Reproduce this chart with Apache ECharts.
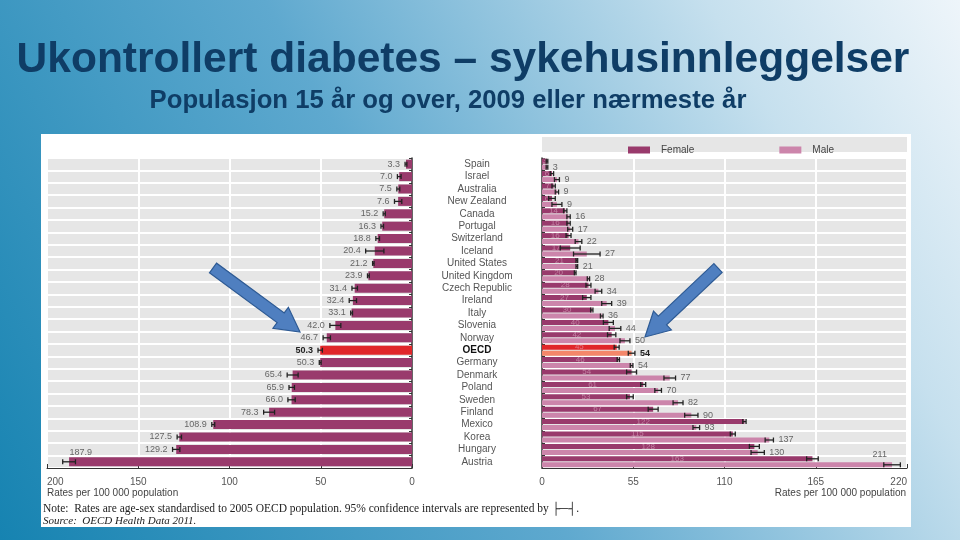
<!DOCTYPE html>
<html><head><meta charset="utf-8">
<script src="https://cdn.jsdelivr.net/npm/echarts@6/dist/echarts.min.js"></script>
<style>html,body{margin:0;padding:0;overflow:hidden}#c{width:960px;height:540px}</style>
</head><body><div id="c"></div>
<script>
const countries = ['Spain','Israel','Australia','New Zealand','Canada','Portugal','Switzerland','Iceland','United States','United Kingdom','Czech Republic','Ireland','Italy','Slovenia','Norway','OECD','Germany','Denmark','Poland','Sweden','Finland','Mexico','Korea','Hungary','Austria'];
const total    = [3.3,7.0,7.5,7.6,15.2,16.3,18.8,20.4,21.2,23.9,31.4,32.4,33.1,42.0,46.7,50.3,50.3,65.4,65.9,66.0,78.3,108.9,127.5,129.2,187.9];
const totalErr = [0.5,1.0,0.8,2.0,0.6,0.7,1.0,5.0,0.4,0.5,1.5,2.0,0.5,3.0,2.0,1.2,0.5,3.0,1.5,2.0,3.0,0.8,1.2,2.0,3.5];
const female    = [3,6,7,6,14,16,16,17,21,20,28,27,30,40,42,45,46,54,61,53,67,122,115,128,163];
const femaleErr = [0.5,1,1,2,1,1,1.5,6,0.5,0.5,1.5,2.5,0.7,3,2.5,1.5,0.7,3,1.5,2,3,1,1.5,3,3.5];
const male    = [3,9,9,9,16,17,22,27,21,28,34,39,36,44,50,54,54,77,70,82,90,93,137,130,211];
const maleErr = [0.5,1.5,1,3,1,1.5,2,8,0.5,0.7,2,3,0.8,3.5,3,2,0.8,3.5,2,3,4,2,2.5,4,5];
const leftTicks = [0,50,100,150,200];
const rightTicks = [0,55,110,165,220];

const OECD = countries.indexOf('OECD');
const C_F = '#993a6c', C_M = '#cc85ab', C_RED = '#e0262a', C_ORG = '#f4876a';
const LEFT_EDGE = 47, RIGHT_EDGE = 907;

const chart = echarts.init(document.getElementById('c'));

function errSeries(name, xi, yi, vals, errs, off, labelSide, showLabel) {
  return {
    type: 'custom', name: name, xAxisIndex: xi, yAxisIndex: yi, z: 5, silent: true,
    data: vals.map((v, i) => [v, i, errs[i]]),
    encode: { x: 0, y: 1 },
    renderItem: function (params, api) {
      const v = api.value(0), c = api.value(1), e = api.value(2);
      const a = api.coord([v - e, c]), b = api.coord([v + e, c]);
      const y = a[1] + off;
      const h = 2.5;
      const kids = [
        { type: 'line', shape: { x1: a[0], y1: y, x2: b[0], y2: y }, style: { stroke: '#222', lineWidth: 1.3 } },
        { type: 'line', shape: { x1: a[0], y1: y - h, x2: a[0], y2: y + h }, style: { stroke: '#222', lineWidth: 1.3 } },
        { type: 'line', shape: { x1: b[0], y1: y - h, x2: b[0], y2: y + h }, style: { stroke: '#222', lineWidth: 1.3 } }
      ];
      if (showLabel) {
        const isO = c === OECD;
        const txt = labelSide === 'left' ? v.toFixed(1) : String(v);
        let tx, ty = y, ta;
        if (labelSide === 'left') {
          if (b[0] - 30 < LEFT_EDGE) { tx = b[0] + 18; ty = y - 9; ta = 'center'; }
          else { tx = b[0] - 5; ta = 'right'; }
        } else {
          if (b[0] + 22 > RIGHT_EDGE) { tx = a[0] - 4; ty = y - 10; ta = 'center'; }
          else { tx = b[0] + 5; ta = 'left'; }
        }
        kids.push({
          type: 'text',
          style: {
            x: tx, y: ty, text: txt, textAlign: ta, textVerticalAlign: 'middle',
            font: (isO ? 'bold ' : '') + '9px "Liberation Sans", Arial, sans-serif',
            fill: isO ? '#222' : '#666'
          }
        });
      }
      return { type: 'group', children: kids };
    }
  };
}

function arrow(x1, y1, x2, y2) {
  const dx = x2 - x1, dy = y2 - y1, L = Math.hypot(dx, dy);
  const ux = dx / L, uy = dy / L, px = -uy, py = ux;
  const sw = 6, hw = 13, hl = 24;
  const bx = x2 - ux * hl, by = y2 - uy * hl;
  const pts = [
    [x1 + px * sw, y1 + py * sw], [bx + px * sw, by + py * sw], [bx + px * hw, by + py * hw],
    [x2, y2], [bx - px * hw, by - py * hw], [bx - px * sw, by - py * sw], [x1 - px * sw, y1 - py * sw]
  ];
  return { type: 'polygon', z: 100, shape: { points: pts }, style: { fill: '#4f7fc0', stroke: '#2d5a94', lineWidth: 1.2 } };
}

const catAxisBase = {
  type: 'category', data: countries, inverse: true,
  axisTick: { show: true, inside: true, length: 3, interval: 0, lineStyle: { color: '#333' } },
  splitLine: { show: true, interval: 0, lineStyle: { color: '#ffffff', width: 2 } }
};

const option = {
  animation: false,
  backgroundColor: new echarts.graphic.LinearGradient(0, 1, 1, 0, [
    { offset: 0, color: '#1683b1' }, { offset: 0.45, color: '#5fa9cf' }, { offset: 0.8, color: '#c6e0ee' }, { offset: 1, color: '#eef5fa' }
  ]),
  graphic: [
    { type: 'rect', z: -10, shape: { x: 41, y: 134, width: 870, height: 393 }, style: { fill: '#ffffff' } },
    { type: 'rect', z: -9, shape: { x: 542, y: 137, width: 365, height: 15 }, style: { fill: '#e6e6e6' } },
    { type: 'text', style: { x: 463, y: 60, text: 'Ukontrollert diabetes – sykehusinnleggelser', textAlign: 'center', textVerticalAlign: 'middle', font: 'bold 42.5px "Liberation Sans Narrow", "Arial Narrow", Arial, sans-serif', fill: '#0f3d66' } },
    { type: 'text', style: { x: 448, y: 101, text: 'Populasjon 15 år og over, 2009 eller nærmeste år', textAlign: 'center', textVerticalAlign: 'middle', font: 'bold 25.7px "Liberation Sans Narrow", "Arial Narrow", Arial, sans-serif', fill: '#0f3d66' } },
    { type: 'text', style: { x: 47, y: 493, text: 'Rates per 100 000 population', textVerticalAlign: 'middle', font: '10px "Liberation Sans Narrow", Arial, sans-serif', fill: '#444' } },
    { type: 'text', style: { x: 906, y: 493, text: 'Rates per 100 000 population', textAlign: 'right', textVerticalAlign: 'middle', font: '10px "Liberation Sans Narrow", Arial, sans-serif', fill: '#444' } },
    { type: 'text', style: { x: 43, y: 509, text: 'Note:  Rates are age-sex standardised to 2005 OECD population. 95% confidence intervals are represented by ├─┤.', textVerticalAlign: 'middle', font: '11.5px "Liberation Serif", "Times New Roman", serif', fill: '#222' } },
    { type: 'text', style: { x: 43, y: 521, text: 'Source:  OECD Health Data 2011.', textVerticalAlign: 'middle', font: 'italic 11px "Liberation Serif", "Times New Roman", serif', fill: '#222' } },
    arrow(213, 268, 300, 332),
    arrow(718, 268, 645, 337)
  ],
  legend: {
    left: 623, top: 140, itemWidth: 22, itemHeight: 7, itemGap: 85, icon: 'rect',
    data: ['Female', 'Male'],
    textStyle: { fontSize: 10, color: '#444', fontFamily: '"Liberation Sans", Arial, sans-serif', padding: [0, 0, 0, 6] }
  },
  grid: [
    { left: 47, right: 548, top: 158, height: 310, show: true, backgroundColor: '#e6e6e6', borderWidth: 0 },
    { left: 542, right: 53, top: 158, height: 310, show: true, backgroundColor: '#e6e6e6', borderWidth: 0 }
  ],
  xAxis: [
    { type: 'value', gridIndex: 0, inverse: true, min: leftTicks[0], max: leftTicks[leftTicks.length - 1], interval: 50,
      axisLine: { show: true, lineStyle: { color: '#333' } },
      axisTick: { show: true, inside: true, length: 4, lineStyle: { color: '#333' } },
      axisLabel: { color: '#555', fontSize: 10, margin: 9, fontFamily: '"Liberation Sans", Arial, sans-serif', alignMaxLabel: 'left' },
      splitLine: { show: true, lineStyle: { color: '#ffffff', width: 2 } } },
    { type: 'value', gridIndex: 1, min: rightTicks[0], max: rightTicks[rightTicks.length - 1], interval: 55,
      axisLine: { show: true, lineStyle: { color: '#333' } },
      axisTick: { show: true, inside: true, length: 4, lineStyle: { color: '#333' } },
      axisLabel: { color: '#555', fontSize: 10, margin: 9, fontFamily: '"Liberation Sans", Arial, sans-serif', alignMaxLabel: 'right' },
      splitLine: { show: true, lineStyle: { color: '#ffffff', width: 2 } } }
  ],
  yAxis: [
    Object.assign({}, catAxisBase, { gridIndex: 0, position: 'right', axisLine: { show: true, lineStyle: { color: '#333', width: 1.5 } }, axisLabel: { show: false } }),
    Object.assign({}, catAxisBase, { gridIndex: 1, position: 'left', axisLine: { show: true, lineStyle: { color: '#333', width: 1.5 } },
      axisLabel: { show: true, interval: 0, align: 'center', margin: 65, fontSize: 10, color: '#555', fontFamily: '"Liberation Sans", Arial, sans-serif',
        formatter: v => v === 'OECD' ? '{b|' + v + '}' : v, rich: { b: { fontWeight: 'bold', color: '#111', fontSize: 10 } } } })
  ],
  series: [
    { type: 'bar', name: 'Total', xAxisIndex: 0, yAxisIndex: 0, barWidth: 9,
      data: total.map((v, i) => i === OECD ? { value: v, itemStyle: { color: C_RED } } : v),
      itemStyle: { color: C_F } },
    { type: 'bar', name: 'Female', xAxisIndex: 1, yAxisIndex: 1, barWidth: 5, barGap: '20%',
      data: female.map((v, i) => i === OECD ? { value: v, itemStyle: { color: C_RED } } : v),
      itemStyle: { color: C_F },
      label: { show: true, position: 'inside', fontSize: 8, color: 'rgba(230,190,210,0.55)', formatter: p => p.value } },
    { type: 'bar', name: 'Male', xAxisIndex: 1, yAxisIndex: 1, barWidth: 5, barGap: '20%',
      data: male.map((v, i) => i === OECD ? { value: v, itemStyle: { color: C_ORG } } : v),
      itemStyle: { color: C_M } },
    errSeries('eT', 0, 0, total, totalErr, 0, 'left', true),
    errSeries('eF', 1, 1, female, femaleErr, -3, 'right', false),
    errSeries('eM', 1, 1, male, maleErr, 3, 'right', true)
  ]
};
chart.setOption(option);
</script>
</body></html>
